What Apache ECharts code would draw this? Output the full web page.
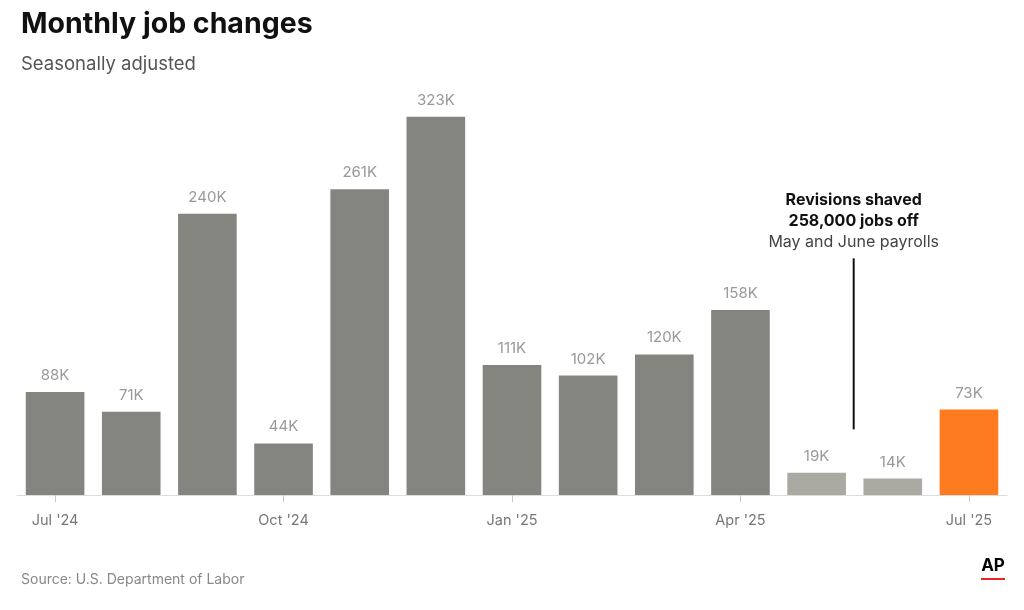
<!DOCTYPE html>
<html><head><meta charset="utf-8">
<script src="https://cdn.jsdelivr.net/npm/echarts@6/dist/echarts.min.js"></script>
<style>html,body{margin:0;padding:0;background:#fff}#c{width:1024px;height:610px}</style>
</head><body><div id="c"></div>
<script>
var categories = ["Jul '24","Aug '24","Sep '24","Oct '24","Nov '24","Dec '24","Jan '25","Feb '25","Mar '25","Apr '25","May '25","Jun '25","Jul '25"];
var values = [88, 71, 240, 44, 261, 323, 111, 102, 120, 158, 19, 14, 73];
var barKinds = ["base","base","base","base","base","base","base","base","base","base","revised","revised","latest"];
var tickIndices = [0, 3, 6, 9, 12];
var colors = {base: '#858580', revised: '#aaaaa3', latest: '#ff7b20'};
var font = 'Inter, Roboto, "Liberation Sans", sans-serif';

var chart = echarts.init(document.getElementById('c'));
var option = {
  animation: false,
  title: [
    {text: 'Monthly job changes', left: 16, top: 5, textStyle: {fontFamily: font, fontSize: 28.5, fontWeight: 'bold', color: '#111'}},
    {text: 'Seasonally adjusted', left: 16, top: 50, textStyle: {fontFamily: font, fontSize: 18.5, fontWeight: 'normal', color: '#555'}},
    {text: 'Source: U.S. Department of Labor', left: 16, top: 568, textStyle: {fontFamily: font, fontSize: 14, fontWeight: 'normal', color: '#888'}}
  ],
  grid: {left: 17, top: 85, width: 990, height: 410, containLabel: false},
  xAxis: {
    type: 'category', data: categories, boundaryGap: true,
    axisLine: {show: true, lineStyle: {color: '#dddddd', width: 1}},
    axisTick: {show: true, alignWithLabel: true, length: 7, lineStyle: {color: '#c8c8c8'},
      interval: function (i) { return tickIndices.indexOf(i) >= 0; }},
    axisLabel: {interval: function (i) { return tickIndices.indexOf(i) >= 0; },
      margin: 18, fontFamily: font, fontSize: 14.5, color: '#777'}
  },
  yAxis: {type: 'value', min: 0, max: 350, show: false, splitLine: {show: false}},
  series: [{
    type: 'bar', barWidth: '77%',
    data: values.map(function (v, i) {
      return {value: v, itemStyle: {color: colors[barKinds[i]]}};
    }),
    label: {show: true, position: 'top', distance: 9, formatter: '{c}K',
      fontFamily: font, fontSize: 15, color: '#999'}
  }]
};
chart.setOption(option);

var xa = chart.convertToPixel({xAxisIndex: 0}, 10);
var xb = chart.convertToPixel({xAxisIndex: 0}, 11);
var ax = (xa + xb) / 2 - 1;
var yTop = chart.convertToPixel({yAxisIndex: 0}, 202);
var yBot = chart.convertToPixel({yAxisIndex: 0}, 56);
chart.setOption({
  graphic: [
    {type: 'line', shape: {x1: ax, y1: yTop, x2: ax, y2: yBot}, style: {stroke: '#111', lineWidth: 2}},
    {type: 'text', x: ax, y: 200, style: {text: 'Revisions shaved', fontFamily: font, fontSize: 16, fontWeight: 'bold', fill: '#111', align: 'center', verticalAlign: 'middle'}},
    {type: 'text', x: ax, y: 221, style: {text: '258,000 jobs off', fontFamily: font, fontSize: 16, fontWeight: 'bold', fill: '#111', align: 'center', verticalAlign: 'middle'}},
    {type: 'text', x: ax, y: 242, style: {text: 'May and June payrolls', fontFamily: font, fontSize: 16, fill: '#444', align: 'center', verticalAlign: 'middle'}},
    {type: 'text', x: 993, y: 566, style: {text: 'AP', fontFamily: font, fontSize: 17, fontWeight: 'bold', fill: '#000', align: 'center', verticalAlign: 'middle'}},
    {type: 'rect', shape: {x: 981, y: 578, width: 24, height: 2}, style: {fill: '#e8232a'}}
  ]
});
</script></body></html>
